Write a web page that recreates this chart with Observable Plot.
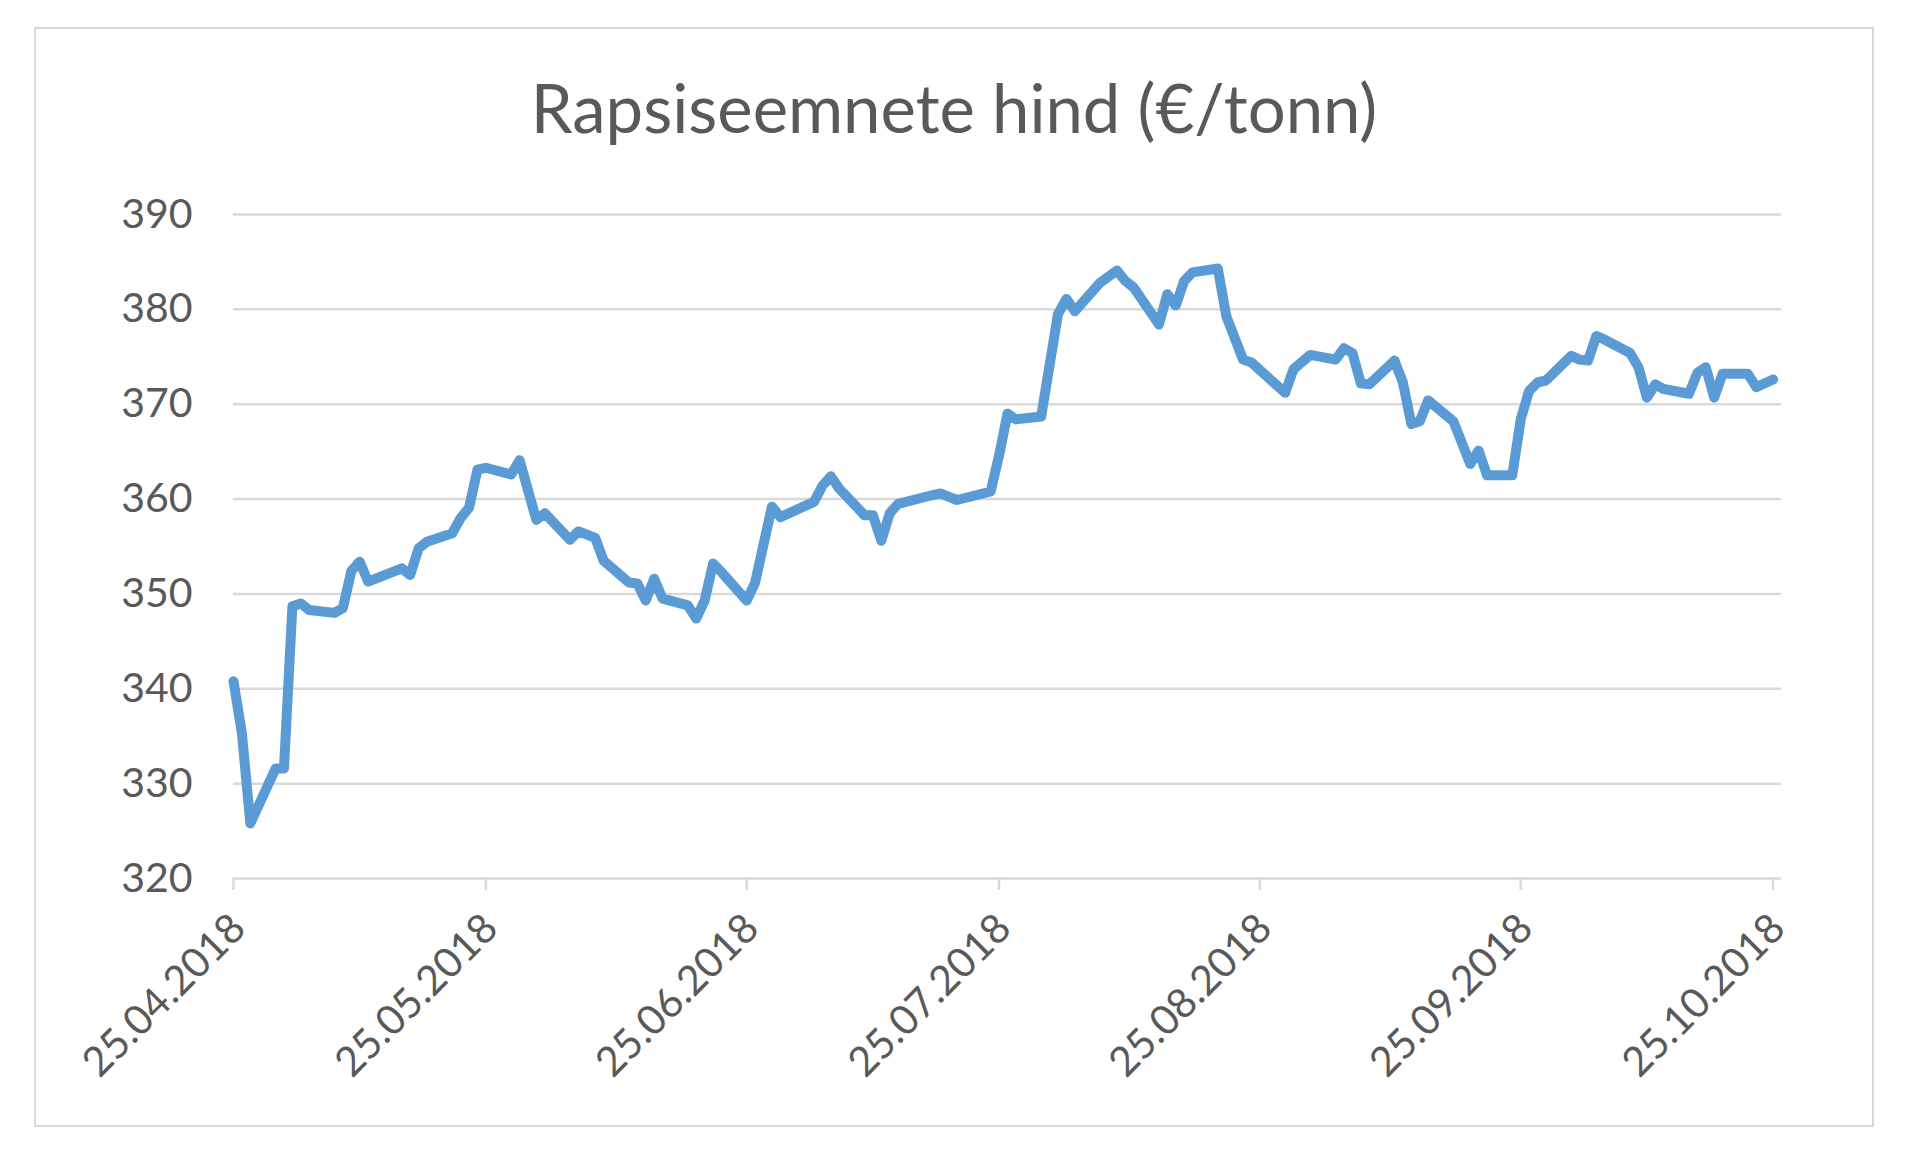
<!DOCTYPE html>
<html>
<head>
<meta charset="utf-8">
<script src="https://cdn.jsdelivr.net/npm/d3@7"></script>
<script src="https://cdn.jsdelivr.net/npm/@observablehq/plot@0.6"></script>
<style>
  html, body { margin: 0; padding: 0; background: #fff; }
  #wrap { position: relative; width: 1920px; height: 1167px; background: #fff; font-family: Lato, "Open Sans", sans-serif; }
  #box { position: absolute; left: 34px; top: 27px; width: 1836px; height: 1096px; border: 2.5px solid #d9d9d9; }
  #title { position: absolute; left: 34px; width: 1840px; top: 67px; text-align: center; font-size: 67px; line-height: 1.2; color: #595959; font-family: Lato, sans-serif; }
  #chart { position: absolute; left: 0; top: 160px; }
</style>
</head>
<body>
<div id="wrap">
  <div id="box"></div>
  <div id="title">Rapsiseemnete hind (€/tonn)</div>
  <div id="chart"></div>
</div>
<script>
const dates = [
  "2018-04-25","2018-04-26","2018-04-27","2018-04-30","2018-05-01","2018-05-02","2018-05-03","2018-05-04",
  "2018-05-07","2018-05-08","2018-05-09","2018-05-10","2018-05-11","2018-05-15","2018-05-16","2018-05-17",
  "2018-05-18","2018-05-21","2018-05-22","2018-05-23","2018-05-24","2018-05-25","2018-05-28","2018-05-29",
  "2018-05-31","2018-06-01","2018-06-04","2018-06-05","2018-06-07","2018-06-08","2018-06-11","2018-06-12",
  "2018-06-13","2018-06-14","2018-06-15","2018-06-18","2018-06-19","2018-06-20","2018-06-21","2018-06-22",
  "2018-06-25","2018-06-26","2018-06-28","2018-06-29","2018-07-03","2018-07-04","2018-07-05","2018-07-06",
  "2018-07-09","2018-07-10","2018-07-11","2018-07-12","2018-07-13","2018-07-17","2018-07-18","2018-07-20",
  "2018-07-24","2018-07-25","2018-07-26","2018-07-27","2018-07-30","2018-08-01","2018-08-02","2018-08-03",
  "2018-08-06","2018-08-08","2018-08-09","2018-08-10","2018-08-13","2018-08-14","2018-08-15","2018-08-16",
  "2018-08-17","2018-08-20","2018-08-21","2018-08-23","2018-08-24","2018-08-28","2018-08-29","2018-08-31",
  "2018-09-03","2018-09-04","2018-09-05","2018-09-06","2018-09-07","2018-09-10","2018-09-11","2018-09-12",
  "2018-09-13","2018-09-14","2018-09-17","2018-09-19","2018-09-20","2018-09-21","2018-09-24","2018-09-25",
  "2018-09-26","2018-09-27","2018-09-28","2018-10-01","2018-10-02","2018-10-03","2018-10-04","2018-10-05",
  "2018-10-08","2018-10-09","2018-10-10","2018-10-11","2018-10-12","2018-10-15","2018-10-16","2018-10-17",
  "2018-10-18","2018-10-19","2018-10-22","2018-10-23","2018-10-25"
];
const prices = [
  340.8,335.3,325.8,331.6,331.6,348.7,349.0,348.3,
  348.0,348.5,352.4,353.4,351.3,352.7,352.0,354.8,
  355.5,356.4,358.0,359.1,363.1,363.3,362.6,364.1,
  357.8,358.5,355.7,356.6,355.9,353.5,351.2,351.1,
  349.3,351.6,349.5,348.8,347.4,349.3,353.2,352.3,
  349.3,351.2,359.2,358.1,359.7,361.4,362.4,361.1,
  358.3,358.3,355.6,358.5,359.5,360.4,360.6,359.9,
  360.8,364.6,369.0,368.4,368.7,379.5,381.1,379.8,
  382.8,384.1,383.0,382.3,378.4,381.6,380.4,383.0,
  383.9,384.3,379.3,374.7,374.4,371.2,373.7,375.2,
  374.7,375.9,375.4,372.2,372.1,374.6,372.3,367.9,
  368.2,370.4,368.2,363.7,365.1,362.5,362.5,368.4,
  371.4,372.3,372.5,375.1,374.7,374.6,377.2,376.8,
  375.4,373.9,370.7,372.1,371.6,371.1,373.3,373.9,
  370.7,373.2,373.2,371.8,372.6
];
const xTickDates = ["2018-04-25","2018-05-25","2018-06-25","2018-07-25","2018-08-25","2018-09-25","2018-10-25"];
const yTicks = [320, 330, 340, 350, 360, 370, 380, 390];
const xDomain = ["2018-04-25", "2018-10-26"];

const data = dates.map((d, i) => ({date: new Date(d + "T00:00:00Z"), value: prices[i]}));
const xTicks = xTickDates.map(d => new Date(d + "T00:00:00Z"));

const chart = Plot.plot({
  width: 1920,
  height: 960,
  marginLeft: 233,
  marginRight: 139,
  marginTop: 54,
  marginBottom: 242,
  style: {fontFamily: "Lato, sans-serif", color: "#595959", background: "transparent", overflow: "visible"},
  x: {type: "utc", domain: xDomain.map(d => new Date(d + "T00:00:00Z"))},
  y: {domain: [320, 390]},
  marks: [
    Plot.ruleY(yTicks, {stroke: "#d9d9d9", strokeWidth: 2.5}),
    Plot.axisY({ticks: yTicks, tickSize: 0, tickPadding: 41, fontSize: 41, fill: "#595959", label: null}),
    // tick marks only
    Plot.axisX({ticks: xTicks, tickFormat: () => "", tickSize: 12, stroke: "#d9d9d9", strokeWidth: 2.5, label: null}),
    // rotated date labels only
    Plot.axisX({ticks: xTicks, tickFormat: d3.utcFormat("%d.%m.%Y"), tickRotate: -45, tickSize: 0,
                tickPadding: 43, dx: 5, fontSize: 41, fill: "#595959", label: null}),
    Plot.lineY(data, {x: "date", y: "value", stroke: "#5b9bd5", strokeWidth: 10,
                      strokeLinejoin: "round", strokeLinecap: "round"})
  ]
});
document.getElementById("chart").appendChild(chart);
</script>
</body>
</html>
